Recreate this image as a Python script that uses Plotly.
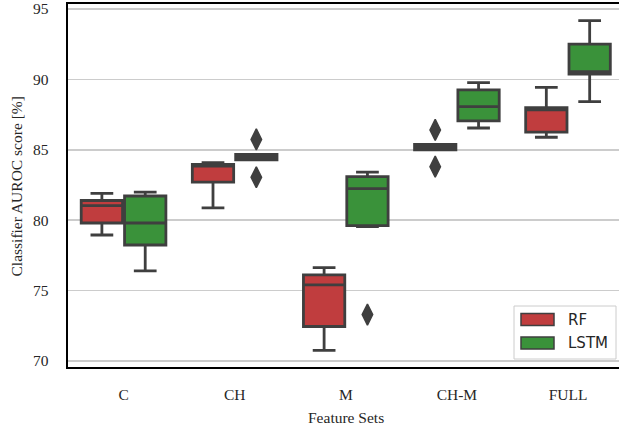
import plotly.graph_objects as go

categories = ["C", "CH", "M", "CH-M", "FULL"]
series = ["RF", "LSTM"]

rf_lower = [78.95, 80.87, 70.75, 85.00, 85.89]
rf_q1 = [79.80, 82.71, 72.45, 85.00, 86.26]
rf_median = [81.04, 83.85, 75.40, 85.20, 87.83]
rf_q3 = [81.40, 83.96, 76.11, 85.38, 88.00]
rf_upper = [81.91, 84.08, 76.63, 85.38, 89.44]

lstm_lower = [76.40, 84.29, 79.55, 86.55, 88.42]
lstm_q1 = [78.24, 84.29, 79.62, 87.05, 90.38]
lstm_median = [79.80, 84.49, 82.24, 88.06, 90.55]
lstm_q3 = [81.72, 84.67, 83.10, 89.25, 92.51]
lstm_upper = [82.00, 84.67, 83.42, 89.77, 94.17]

# outliers: (category index, value)
rf_outliers_cat = [3, 3]
rf_outliers_val = [86.41, 83.80]
lstm_outliers_cat = [1, 1, 2]
lstm_outliers_val = [85.74, 83.05, 73.30]

y_ticks = [70, 75, 80, 85, 90, 95]
x_title = "Feature Sets"
y_title = "Classifier AUROC score [%]"

colors = {"RF": "#c03d3e", "LSTM": "#3a923a"}
edge = "#3f3f3f"
W, H = 619, 428
L, R, T, B = 68, 0, 4, 61
offset = 0.195
box_w = 0.372

fig = go.Figure()

data = {
    "RF": (rf_lower, rf_q1, rf_median, rf_q3, rf_upper, rf_outliers_cat, rf_outliers_val),
    "LSTM": (lstm_lower, lstm_q1, lstm_median, lstm_q3, lstm_upper, lstm_outliers_cat, lstm_outliers_val),
}

for si, name in enumerate(series):
    lo, q1, med, q3, up, oc, ov = data[name]
    off = -offset if si == 0 else offset
    xs = [i + off for i in range(len(categories))]
    fig.add_trace(go.Box(
        x=xs, q1=q1, median=med, q3=q3, lowerfence=lo, upperfence=up,
        name=name, width=box_w, whiskerwidth=0.55,
        fillcolor=colors[name], line=dict(color=edge, width=2.8),
        boxpoints=False, showlegend=False, hoverinfo="skip",
    ))
    fig.add_trace(go.Scatter(
        x=[c + off for c in oc], y=ov, mode="markers",
        marker=dict(symbol="diamond-tall", size=15, color=edge,
                    line=dict(color=edge, width=1.5)),
        showlegend=False, hoverinfo="skip",
    ))

pw = W - L - R
ph = H - T - B

def px(x):
    return (x - L) / pw

def py(y):
    return (H - B - y) / ph

txt_font = dict(family="Liberation Serif", size=15.5, color="#262626")

shapes = []
# legend frame
shapes.append(dict(type="rect", xref="paper", yref="paper",
                   x0=px(514), x1=px(616), y0=py(359), y1=py(306),
                   line=dict(color="#cccccc", width=1), fillcolor="rgba(255,255,255,0.8)",
                   layer="above"))
annotations = []
for si, name in enumerate(series):
    yc = 319.5 + si * 23.5
    shapes.append(dict(type="rect", xref="paper", yref="paper",
                       x0=px(521), x1=px(554), y0=py(yc + 6), y1=py(yc - 6),
                       line=dict(color=edge, width=1.5), fillcolor=colors[name],
                       layer="above"))
    annotations.append(dict(text=name, xref="paper", yref="paper",
                            x=px(566), y=py(yc), xanchor="left", yanchor="middle",
                            showarrow=False,
                            font=dict(family="DejaVu Sans", size=15, color="#262626")))

annotations.append(dict(text=x_title, xref="paper", yref="paper",
                        x=px(346), y=py(417), xanchor="center", yanchor="middle",
                        showarrow=False, font=txt_font))
annotations.append(dict(text=y_title, xref="paper", yref="paper",
                        x=px(16), y=py(186.5), xanchor="center", yanchor="middle",
                        textangle=-90, showarrow=False, font=txt_font))

fig.update_layout(
    width=W, height=H,
    margin=dict(l=L, r=R, t=T, b=B, pad=0, autoexpand=False),
    paper_bgcolor="white", plot_bgcolor="white",
    shapes=shapes, annotations=annotations,
    font=txt_font,
    xaxis=dict(
        range=[-0.5, 4.459], tickvals=list(range(len(categories))), ticktext=categories,
        showgrid=False, zeroline=False, automargin=False,
        showline=True, linecolor="black", linewidth=2.3, mirror=True,
        ticks="outside", ticklen=12, tickcolor="rgba(0,0,0,0)",
        tickfont=txt_font,
    ),
    yaxis=dict(
        range=[69.574, 95.355], tickvals=y_ticks,
        showgrid=True, gridcolor="#cccccc", gridwidth=1.6, zeroline=False, automargin=False,
        showline=True, linecolor="black", linewidth=2.3,
        ticks="outside", ticklen=14, tickcolor="rgba(0,0,0,0)",
        tickfont=txt_font,
    ),
)

fig.write_html(
    "out.html",
    config={"displayModeBar": False, "staticPlot": True},
    post_script="document.body.style.margin='0';document.body.style.overflow='hidden';",
)
